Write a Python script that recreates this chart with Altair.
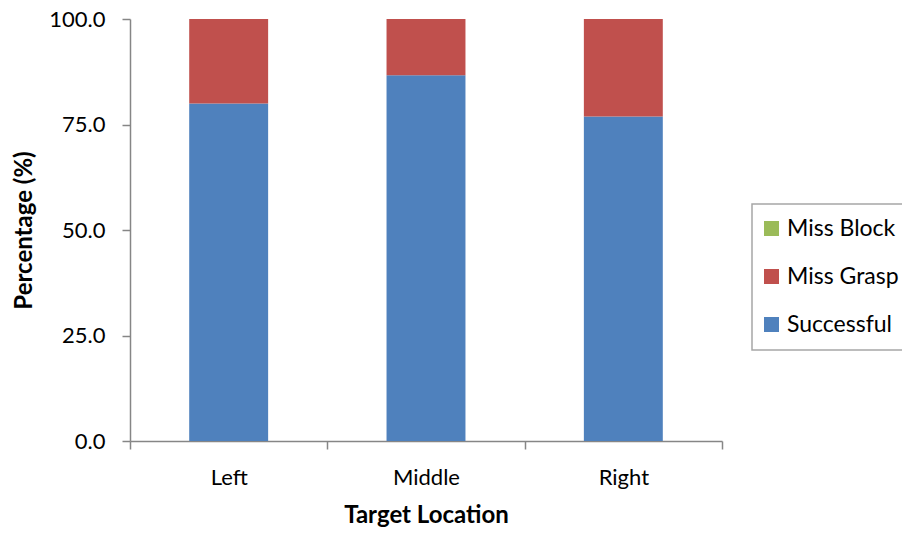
import altair as alt
import pandas as pd

categories = ["Left", "Middle", "Right"]
successful = [80.0, 86.7, 76.9]
miss_grasp = [20.0, 13.3, 23.1]
miss_block = [0.0, 0.0, 0.0]
series = ["Miss Block", "Miss Grasp", "Successful"]
colors = ["#9BBB59", "#C0504D", "#4F81BD"]
y_ticks = [0, 25, 50, 75, 100]

rows = []
for i, c in enumerate(categories):
    rows.append({"loc": c, "type": "Successful", "val": successful[i], "ord": 0})
    rows.append({"loc": c, "type": "Miss Grasp", "val": miss_grasp[i], "ord": 1})
    rows.append({"loc": c, "type": "Miss Block", "val": miss_block[i], "ord": 2})
df = pd.DataFrame(rows)

FONT = "Lato"
AXC = "#868686"

chart = alt.Chart(df).mark_bar(width=alt.RelativeBandSize(0.4)).encode(
    x=alt.X("loc:N", sort=categories,
            scale=alt.Scale(paddingInner=0, paddingOuter=0),
            axis=alt.Axis(title="Target Location", labelAngle=0, tickBand="extent",
                          labelFontSize=22, labelFont=FONT, labelColor="#000000",
                          labelPadding=18, tickSize=8, tickColor=AXC, domainColor=AXC,
                          tickWidth=1.5, domainWidth=1.5,
                          titleFont=FONT, titleFontSize=24, titleFontWeight="bold",
                          titleColor="#000000", titleY=81, titleBaseline="alphabetic")),
    y=alt.Y("val:Q", stack="zero",
            scale=alt.Scale(domain=[0, 100], nice=False),
            axis=alt.Axis(title="Percentage (%)", values=y_ticks, format=".1f", grid=False,
                          labelFontSize=22, labelFont=FONT, labelColor="#000000",
                          labelPadding=17, tickSize=8, tickColor=AXC, domainColor=AXC,
                          tickWidth=1.5, domainWidth=1.5,
                          titleFont=FONT, titleFontSize=24, titleFontWeight="bold",
                          titleColor="#000000", titleX=-106, titleY=211,
                          titleAngle=-90, titleAlign="center", titleBaseline="middle")),
    color=alt.Color("type:N",
                    scale=alt.Scale(domain=series, range=colors),
                    legend=alt.Legend(title=None, orient="none", legendX=622, legendY=185,
                                      symbolType="square", symbolSize=225,
                                      symbolStrokeWidth=0, symbolOffset=-5,
                                      labelFont=FONT, labelFontSize=23, labelColor="#000000",
                                      rowPadding=24, padding=13, labelOffset=4,
                                      strokeColor="#A6A6A6", fillColor="white")),
    order=alt.Order("ord:Q"),
).properties(
    width=592, height=422,
    autosize=alt.AutoSizeParams(type="none"),
    padding={"left": 122, "top": 11, "right": 180, "bottom": 86},
).configure_view(stroke=None).configure_legend(strokeWidth=1.5)

chart.save("out.html", embed_options={"renderer": "svg", "actions": False})
